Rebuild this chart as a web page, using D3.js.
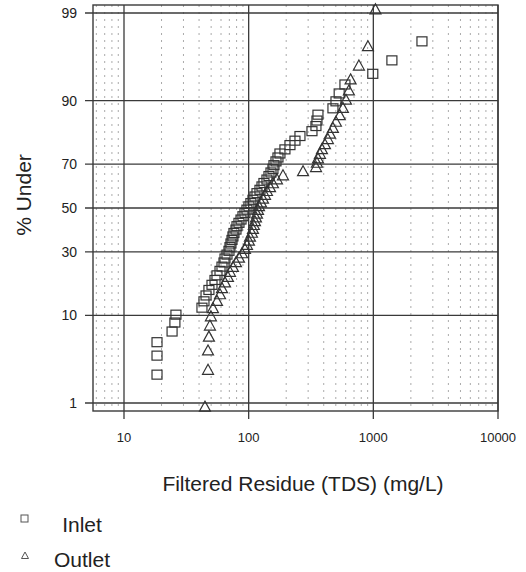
<!DOCTYPE html>
<html>
<head>
<meta charset="utf-8">
<script src="https://cdn.jsdelivr.net/npm/d3@7"></script>
<style>
  body { margin: 0; background: #fff; }
  text { font-family: "Liberation Sans", Arial, sans-serif; fill: #222; }
</style>
</head>
<body>
<div class="content"></div>
<script>
// tick labels
const xTicks = [10, 100, 1000, 10000];
const yTicks = [1, 10, 30, 50, 70, 90, 99];

// Inlet: TDS (mg/L) and plotting position (% under)
const inletTDS = [18.4, 18.4, 18.4, 24.3, 25.6, 26.1, 42.2, 43.8, 45.5, 48.0,
    50.8, 53.7, 55.7, 58.9, 61.1, 63.4, 64.6, 67.0, 69.5, 70.8,
    72.1, 73.5, 74.8, 76.2, 79.1, 80.6, 83.6, 86.8, 90.0, 93.4,
    96.9, 100.5, 104.2, 108.3, 112.3, 116.6, 123.2, 127.9, 132.6, 140.2,
    145.5, 151.0, 156.6, 159.6, 165.6, 171.8, 178.2, 195.4, 214.4, 235.2,
    257.9, 321.9, 346.5, 353.0, 359.6, 474.3, 501.6, 532.2, 591.9, 990,
    1409, 2455];
const inletPct = [2.34, 3.91, 5.47, 7.03, 8.59, 10.16, 11.72, 13.28, 14.84, 16.41,
    17.97, 19.53, 21.09, 22.66, 24.22, 25.78, 27.34, 28.91, 30.47, 32.03,
    33.59, 35.16, 36.72, 38.28, 39.84, 41.41, 42.97, 44.53, 46.09, 47.66,
    49.22, 50.78, 52.34, 53.91, 55.47, 57.03, 58.59, 60.16, 61.72, 63.28,
    64.84, 66.41, 67.97, 69.53, 71.09, 72.66, 74.22, 75.78, 77.34, 78.91,
    80.47, 82.03, 83.59, 85.16, 86.72, 88.28, 89.84, 91.41, 92.97, 94.53,
    96.09, 97.66];

// Outlet
const outletTDS = [44.6, 47.2, 47.2, 48.0, 48.9, 49.8, 51.7, 55.7, 58.9, 61.1,
    64.6, 68.2, 70.8, 74.8, 79.1, 83.6, 88.4, 93.4, 96.9, 100.5,
    102.4, 106.2, 108.3, 110.0, 112.3, 114.4, 116.6, 118.8, 121.0, 125.6,
    130.3, 135.2, 140.2, 148.3, 156.6, 168.6, 188.5, 273, 347, 353,
    360, 373, 387, 409, 432, 449, 474, 501, 538, 570,
    603, 637, 657, 766, 905, 1040];
const outletPct = [0.89, 2.68, 4.46, 6.25, 8.04, 9.82, 11.61, 13.39, 15.18, 16.96,
    18.75, 20.54, 22.32, 24.11, 25.89, 27.68, 29.46, 31.25, 33.04, 34.82,
    36.61, 38.39, 40.18, 41.96, 43.75, 45.54, 47.32, 49.11, 50.89, 52.68,
    54.46, 56.25, 58.04, 59.82, 61.61, 63.39, 65.18, 66.96, 68.75, 70.54,
    72.32, 74.11, 75.89, 77.68, 79.46, 81.25, 83.04, 84.82, 86.61, 88.39,
    90.18, 91.96, 93.75, 95.54, 97.32, 99.11];

// inverse normal cdf (Acklam) for the probability axis
function probit(p) {
    const a = [-39.69683028665376, 220.9460984245205, -275.9285104469687, 138.3577518672690, -30.66479806614716, 2.506628277459239];
    const b = [-54.47609879822406, 161.5858368580409, -155.6989798598866, 66.80131188771972, -13.28068155288572];
    const c = [-0.007784894002430293, -0.3223964580411365, -2.400758277161838, -2.549732539343734, 4.374664141464968, 2.938163982698783];
    const d = [0.007784695709041462, 0.3224671290700398, 2.445134137142996, 3.754408661907416];
    const lo = 0.02425;
    if (p < lo) {
        const q = Math.sqrt(-2 * Math.log(p));
        return (((((c[0]*q+c[1])*q+c[2])*q+c[3])*q+c[4])*q+c[5]) / ((((d[0]*q+d[1])*q+d[2])*q+d[3])*q+1);
    }
    if (p > 1 - lo) {
        const q = Math.sqrt(-2 * Math.log(1 - p));
        return -(((((c[0]*q+c[1])*q+c[2])*q+c[3])*q+c[4])*q+c[5]) / ((((d[0]*q+d[1])*q+d[2])*q+d[3])*q+1);
    }
    const q = p - 0.5, r = q * q;
    return (((((a[0]*r+a[1])*r+a[2])*r+a[3])*r+a[4])*r+a[5])*q / (((((b[0]*r+b[1])*r+b[2])*r+b[3])*r+b[4])*r+1);
}

const content = document.querySelector(".content");
content.innerHTML = '<svg width="526" height="572"></svg>';
const svg = d3.select("svg");

const frameLeft = 93, frameRight = 498, frameTop = 5, frameBottom = 411;
const x = d3.scaleLog().domain([10, 10000]).range([124, 498]);
const zScale = d3.scaleLinear().domain([probit(0.01), probit(0.99)]).range([403, 13]);
const y = pct => zScale(probit(pct / 100));

// minor vertical grid
const minor = [6, 7, 8, 9];
[10, 100, 1000].forEach(dec => d3.range(2, 10).forEach(m => minor.push(dec * m)));
svg.append("g").selectAll("line")
    .data(minor)
    .join("line")
    .attr("x1", d => x(d)).attr("x2", d => x(d))
    .attr("y1", frameTop).attr("y2", frameBottom)
    .attr("stroke", "#a0a0a0")
    .attr("stroke-width", 0.9)
    .attr("stroke-dasharray", "2,5");

// major vertical lines, with ticks below the frame
svg.append("g").selectAll("line")
    .data(xTicks)
    .join("line")
    .attr("x1", d => x(d)).attr("x2", d => x(d))
    .attr("y1", frameTop).attr("y2", 419)
    .attr("stroke", "#3a3a3a")
    .attr("stroke-width", 1.3);

// major horizontal lines, running out past the left frame
svg.append("g").selectAll("line")
    .data(yTicks)
    .join("line")
    .attr("x1", 85).attr("x2", frameRight)
    .attr("y1", d => y(d)).attr("y2", d => y(d))
    .attr("stroke", "#3a3a3a")
    .attr("stroke-width", 1.3);

// frame
svg.append("rect")
    .attr("x", frameLeft).attr("y", frameTop)
    .attr("width", frameRight - frameLeft).attr("height", frameBottom - frameTop)
    .attr("fill", "none")
    .attr("stroke", "#3a3a3a")
    .attr("stroke-width", 1.4);

// tick labels
svg.append("g").selectAll("text")
    .data(yTicks)
    .join("text")
    .attr("x", 77)
    .attr("y", d => y(d) + 5)
    .attr("text-anchor", "end")
    .attr("font-size", 14)
    .text(d => d);

svg.append("g").selectAll("text")
    .data(xTicks)
    .join("text")
    .attr("x", d => x(d))
    .attr("y", 442)
    .attr("text-anchor", "middle")
    .attr("font-size", 13)
    .text(d => d);

// axis titles
svg.append("text")
    .attr("transform", "translate(31,195) rotate(-90)")
    .attr("text-anchor", "middle")
    .attr("font-size", 21)
    .text("% Under");

svg.append("text")
    .attr("x", 303)
    .attr("y", 491)
    .attr("text-anchor", "middle")
    .attr("font-size", 21)
    .text("Filtered Residue (TDS) (mg/L)");

// points
const triangle = "M0,-5.5L5.5,4.5L-5.5,4.5Z";

svg.append("g").selectAll("rect")
    .data(d3.zip(inletTDS, inletPct))
    .join("rect")
    .attr("x", d => x(d[0]) - 5)
    .attr("y", d => y(d[1]) - 4.5)
    .attr("width", 10).attr("height", 9)
    .attr("fill", "none")
    .attr("stroke", "#333")
    .attr("stroke-width", 1.2);

svg.append("g").selectAll("path")
    .data(d3.zip(outletTDS, outletPct))
    .join("path")
    .attr("transform", d => `translate(${x(d[0])},${y(d[1])})`)
    .attr("d", triangle)
    .attr("fill", "none")
    .attr("stroke", "#333")
    .attr("stroke-width", 1.2);

// legend
drawLegendItem(svg, "square", "Inlet", 518.5, 532);
drawLegendItem(svg, "triangle", "Outlet", 555.5, 567);

function drawLegendItem(svg, shape, label, markY, textY) {
    if (shape === "square") {
        svg.append("rect")
            .attr("x", 21).attr("y", markY - 3.5)
            .attr("width", 7).attr("height", 7)
            .attr("fill", "none")
            .attr("stroke", "#555");
    } else {
        svg.append("path")
            .attr("transform", `translate(25,${markY})`)
            .attr("d", "M0,-3.5L3.5,3L-3.5,3Z")
            .attr("fill", "none")
            .attr("stroke", "#555");
    }
    svg.append("text")
        .attr("x", 82)
        .attr("y", textY)
        .attr("text-anchor", "middle")
        .attr("font-size", 21)
        .text(label);
}
</script>
</body>
</html>
